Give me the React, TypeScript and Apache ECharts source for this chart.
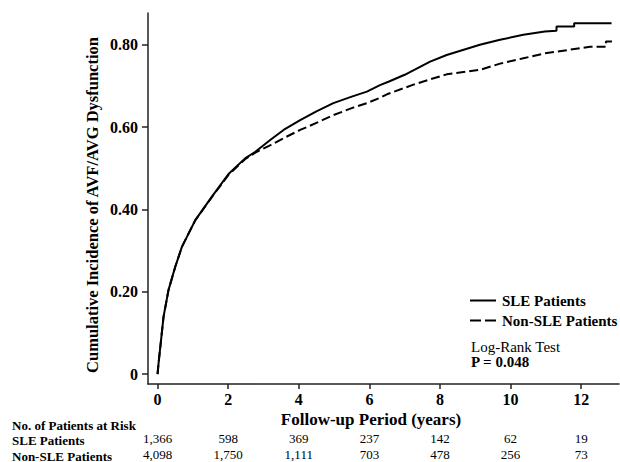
import React, { useEffect, useRef } from "react";
import * as echarts from "echarts";

const sleYears = [0, 0.03, 0.17, 0.31, 0.5, 0.69, 1.07, 1.54, 2.01, 2.48, 2.77, 3.2, 3.57, 4.04, 4.5, 4.98, 5.5, 5.93, 6.3, 6.54, 7.0, 7.72, 8.19, 9.13, 9.7, 10.36, 10.97, 11.3, 11.3, 11.8, 11.8, 12.86];
const sleIncidence = [0, 0.027, 0.139, 0.204, 0.26, 0.309, 0.374, 0.431, 0.486, 0.524, 0.54, 0.569, 0.593, 0.617, 0.638, 0.658, 0.674, 0.686, 0.702, 0.71, 0.727, 0.759, 0.775, 0.8, 0.812, 0.824, 0.832, 0.834, 0.844, 0.844, 0.852, 0.852];

const nonSleYears = [0, 0.03, 0.17, 0.31, 0.5, 0.69, 1.07, 1.54, 2.01, 2.48, 2.77, 3.2, 3.57, 4.04, 4.5, 4.98, 5.5, 5.93, 6.3, 6.54, 7.25, 7.72, 8.19, 9.13, 9.7, 10.36, 10.97, 12.25, 12.7, 12.7, 12.87];
const nonSleIncidence = [0, 0.027, 0.139, 0.204, 0.26, 0.309, 0.374, 0.43, 0.484, 0.522, 0.538, 0.556, 0.573, 0.593, 0.61, 0.629, 0.646, 0.658, 0.671, 0.681, 0.703, 0.716, 0.728, 0.739, 0.754, 0.767, 0.779, 0.795, 0.795, 0.808, 0.808];

const xTicks = [0, 2, 4, 6, 8, 10, 12];
const yTicks = [0, 0.2, 0.4, 0.6, 0.8];
const riskTimes = [0, 2, 4, 6, 8, 10, 12];
const sleAtRisk = ["1,366", "598", "369", "237", "142", "62", "19"];
const nonSleAtRisk = ["4,098", "1,750", "1,111", "703", "478", "256", "73"];
const legendNames = ["SLE Patients", "Non-SLE Patients"];

const FONT = '"Liberation Serif", "Times New Roman", serif';
const X_MIN = -0.27;
const X_MAX = 13.07;

function pairs(xs: number[], ys: number[]) {
  return xs.map((x, i) => [x, ys[i]]);
}

function txt(text: string, x: number, y: number, font: string, align = "left", rotation = 0) {
  return {
    type: "text",
    x,
    y,
    rotation,
    style: {
      text,
      font,
      fill: "#000",
      align,
      verticalAlign: "middle",
      textAlign: align,
      textVerticalAlign: "middle",
    },
  };
}

export default function App() {
  const ref = useRef<HTMLDivElement | null>(null);

  useEffect(() => {
    if (!ref.current) return;
    const chart = echarts.init(ref.current, undefined, { renderer: "svg" });

    const riskAxis = (labels: string[], offset: number) => ({
      type: "value",
      gridIndex: 0,
      position: "bottom",
      offset,
      min: X_MIN,
      max: X_MAX,
      axisLine: { show: false },
      axisTick: { show: false },
      splitLine: { show: false },
      axisLabel: {
        customValues: riskTimes,
        margin: 0,
        fontFamily: FONT,
        fontSize: 13,
        color: "#000",
        formatter: (v: number) => {
          const i = riskTimes.findIndex((t) => Math.abs(t - v) < 1e-6);
          return i >= 0 ? labels[i] : "";
        },
      },
    });

    chart.setOption({
      animation: false,
      backgroundColor: "#fff",
      grid: { left: 148, right: 1, top: 13, bottom: 78, containLabel: false },
      xAxis: [
        {
          type: "value",
          min: X_MIN,
          max: X_MAX,
          axisLine: { show: true, onZero: false, lineStyle: { color: "#222", width: 1.5 } },
          axisTick: { show: true, customValues: xTicks, length: 5, lineStyle: { color: "#222", width: 1.5 } },
          splitLine: { show: false },
          axisLabel: {
            customValues: xTicks,
            margin: 7,
            fontFamily: FONT,
            fontWeight: "bold",
            fontSize: 16,
            color: "#000",
            formatter: (v: number) => String(Math.round(v)),
          },
        },
        riskAxis(sleAtRisk, 48),
        riskAxis(nonSleAtRisk, 64),
      ],
      yAxis: {
        type: "value",
        min: -0.024,
        max: 0.877,
        axisLine: { show: true, onZero: false, lineStyle: { color: "#222", width: 1.5 } },
        axisTick: { show: true, customValues: yTicks, length: 6, lineStyle: { color: "#222", width: 1.5 } },
        splitLine: { show: false },
        axisLabel: {
          customValues: yTicks,
          margin: 10,
          fontFamily: FONT,
          fontWeight: "bold",
          fontSize: 16,
          color: "#000",
          formatter: (v: number) => (Math.abs(v) < 1e-9 ? "0" : v.toFixed(2)),
        },
      },
      series: [
        {
          name: legendNames[0],
          type: "line",
          symbol: "none",
          data: pairs(sleYears, sleIncidence),
          lineStyle: { color: "#000", width: 2, type: "solid" },
          itemStyle: { color: "#000" },
        },
        {
          name: legendNames[1],
          type: "line",
          symbol: "none",
          data: pairs(nonSleYears, nonSleIncidence),
          lineStyle: { color: "#000", width: 2, type: [9, 4] },
          itemStyle: { color: "#000" },
        },
      ],
      graphic: [
        txt("Cumulative Incidence of AVF/AVG Dysfunction", 92, 205, `bold 16.5px ${FONT}`, "center", Math.PI / 2),
        txt("Follow-up Period (years)", 371, 419, `bold 17px ${FONT}`, "center"),
        txt("No. of Patients at Risk", 12, 425, `bold 13px ${FONT}`),
        txt("SLE Patients", 12, 440, `bold 13px ${FONT}`),
        txt("Non-SLE Patients", 12, 456, `bold 13px ${FONT}`),
        {
          type: "line",
          shape: { x1: 470, y1: 300.5, x2: 496, y2: 300.5 },
          style: { stroke: "#000", lineWidth: 2 },
        },
        {
          type: "line",
          shape: { x1: 470, y1: 320.5, x2: 496, y2: 320.5 },
          style: { stroke: "#000", lineWidth: 2, lineDash: [11, 4] },
        },
        txt(legendNames[0], 502, 300.5, `bold 15px ${FONT}`),
        txt(legendNames[1], 502, 320.5, `bold 15px ${FONT}`),
        txt("Log-Rank Test", 471, 347, `15px ${FONT}`),
        txt("P = 0.048", 471, 362, `bold 15px ${FONT}`),
      ],
    });

    return () => chart.dispose();
  }, []);

  return (
    <div
      ref={ref}
      style={{ position: "absolute", left: 0, top: 0, width: 620, height: 462, background: "#fff" }}
    />
  );
}
